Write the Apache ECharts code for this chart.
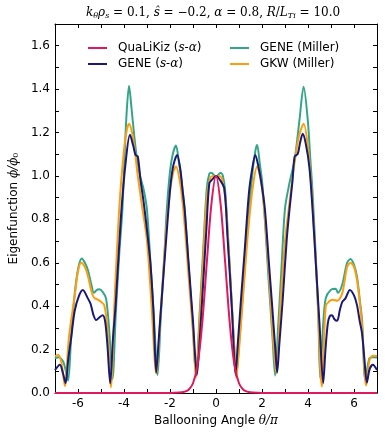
<!DOCTYPE html>
<html>
<head>
<meta charset="utf-8">
<script src="https://cdn.jsdelivr.net/npm/echarts@6/dist/echarts.min.js"></script>
<style>
html, body { margin: 0; padding: 0; background: #fff; }
#main { width: 385px; height: 437px; }
</style>
</head>
<body>
<div id="main"></div>
<script>
// [theta/pi, phi/phi0]
var qualikiz = [[-7,0],[-2,0],[-1.6,0.002],[-1.4,0.005],[-1.2,0.014],[-1.0,0.045],[-0.8,0.13],[-0.6,0.32],[-0.4,0.6],[-0.2,0.87],[0,1.0],
	[0.2,0.87],[0.4,0.6],[0.6,0.32],[0.8,0.13],[1.0,0.045],[1.2,0.014],[1.4,0.005],[1.6,0.002],[2,0],[7,0]];

var geneSA = [[-7.0,0.106],[-6.79,0.13],[-6.65,0.09],[-6.54,0.045],[-6.42,0.16],[-6.29,0.26],[-6.14,0.38],[-5.95,0.45],[-5.79,0.475],
	[-5.57,0.436],[-5.45,0.41],[-5.33,0.36],[-5.21,0.336],[-5.05,0.35],[-4.93,0.358],[-4.82,0.33],[-4.72,0.22],[-4.6,0.045],
	[-4.48,0.25],[-4.36,0.41],[-4.14,0.8],[-3.93,1.06],[-3.74,1.19],[-3.6,1.14],[-3.5,1.097],[-3.4,1.09],[-3.28,0.98],[-3.14,0.875],
	[-3.0,0.75],[-2.86,0.61],[-2.72,0.38],[-2.6,0.094],[-2.48,0.26],[-2.35,0.45],[-2.2,0.66],[-2.07,0.843],[-1.97,0.966],[-1.85,1.05],
	[-1.69,1.097],[-1.55,1.03],[-1.45,0.93],[-1.36,0.843],[-1.2,0.61],[-1.0,0.33],[-0.83,0.083],[-0.7,0.26],[-0.55,0.52],[-0.42,0.75],
	[-0.29,0.966],[-0.15,0.985],[0,1.0],[0.15,0.985],[0.36,0.943],[0.5,0.72],[0.6,0.55],[0.7,0.37],[0.85,0.085],[0.95,0.23],
	[1.1,0.45],[1.25,0.66],[1.43,0.92],[1.57,1.03],[1.71,1.097],[1.85,1.04],[2.0,0.95],[2.13,0.843],[2.3,0.6],[2.45,0.39],
	[2.58,0.2],[2.66,0.094],[2.75,0.22],[2.9,0.43],[3.07,0.7],[3.2,0.85],[3.32,0.97],[3.42,1.09],[3.55,1.1],[3.65,1.15],[3.77,1.194],
	[3.9,1.15],[4.06,1.04],[4.2,0.843],[4.35,0.58],[4.5,0.32],[4.66,0.046],[4.76,0.2],[4.86,0.32],[4.95,0.355],[5.05,0.358],
	[5.15,0.34],[5.27,0.333],[5.38,0.38],[5.49,0.42],[5.63,0.436],[5.82,0.475],[6.0,0.45],[6.13,0.405],[6.25,0.33],[6.35,0.275],
	[6.45,0.16],[6.56,0.048],[6.68,0.11],[6.82,0.13],[7.0,0.106]];

var geneMiller = [[-7.0,0.16],[-6.85,0.165],[-6.64,0.144],[-6.55,0.11],[-6.43,0.057],[-6.3,0.25],[-6.14,0.46],[-5.98,0.58],[-5.83,0.62],
	[-5.7,0.6],[-5.57,0.567],[-5.42,0.5],[-5.31,0.462],[-5.18,0.475],[-5.07,0.478],[-4.92,0.465],[-4.78,0.436],[-4.65,0.3],[-4.5,0.063],
	[-4.35,0.38],[-4.2,0.65],[-4.07,0.843],[-3.97,1.1],[-3.88,1.3],[-3.78,1.416],[-3.68,1.32],[-3.55,1.18],[-3.43,1.074],[-3.3,1.0],
	[-3.14,0.935],[-3.0,0.843],[-2.85,0.6],[-2.7,0.35],[-2.54,0.083],[-2.4,0.35],[-2.25,0.62],[-2.14,0.843],[-2.0,1.02],[-1.88,1.1],
	[-1.74,1.14],[-1.62,1.07],[-1.5,0.98],[-1.36,0.843],[-1.2,0.6],[-1.0,0.3],[-0.87,0.08],[-0.72,0.35],[-0.55,0.67],[-0.4,0.943],
	[-0.29,1.01],[-0.2,1.015],[-0.1,1.005],[0,0.997],[0.1,1.005],[0.2,1.015],[0.3,1.0],[0.4,0.93],[0.5,0.76],[0.65,0.48],[0.8,0.2],
	[0.88,0.075],[1.0,0.22],[1.2,0.5],[1.4,0.8],[1.6,1.03],[1.72,1.12],[1.79,1.143],[1.9,1.06],[2.0,0.98],[2.1,0.84],[2.3,0.5],
	[2.45,0.27],[2.57,0.08],[2.7,0.3],[2.85,0.58],[3.0,0.85],[3.2,0.97],[3.42,1.074],[3.63,1.258],[3.81,1.411],[3.99,1.258],[4.1,1.08],
	[4.2,0.92],[4.35,0.6],[4.45,0.35],[4.53,0.068],[4.65,0.3],[4.77,0.436],[4.99,0.475],[5.2,0.48],[5.3,0.462],[5.49,0.5],[5.7,0.6],
	[5.85,0.617],[6.0,0.59],[6.13,0.536],[6.25,0.43],[6.35,0.336],[6.49,0.06],[6.67,0.16],[6.85,0.165],[7.0,0.163]];

var gkwMiller = [[-7.0,0.17],[-6.86,0.175],[-6.72,0.14],[-6.57,0.032],[-6.4,0.25],[-6.14,0.45],[-6.0,0.56],[-5.86,0.6],[-5.7,0.58],
	[-5.57,0.54],[-5.42,0.47],[-5.31,0.44],[-5.14,0.43],[-5.0,0.42],[-4.86,0.405],[-4.72,0.3],[-4.57,0.026],[-4.4,0.45],[-4.2,0.86],
	[-4.0,1.12],[-3.88,1.21],[-3.78,1.24],[-3.6,1.17],[-3.4,1.0],[-3.2,0.85],[-3.0,0.7],[-2.8,0.4],[-2.6,0.09],[-2.4,0.38],[-2.2,0.7],
	[-2.0,0.93],[-1.85,1.02],[-1.74,1.043],[-1.55,0.96],[-1.4,0.82],[-1.2,0.55],[-1.0,0.28],[-0.87,0.07],[-0.7,0.35],[-0.55,0.63],
	[-0.4,0.9],[-0.25,0.99],[-0.12,1.0],[0,0.995],[0.12,1.0],[0.25,0.99],[0.4,0.9],[0.5,0.76],[0.65,0.48],[0.8,0.2],[0.88,0.07],
	[1.0,0.2],[1.2,0.48],[1.4,0.75],[1.6,0.95],[1.79,1.043],[1.95,0.98],[2.1,0.84],[2.3,0.55],[2.45,0.3],[2.62,0.09],[2.8,0.4],
	[3.0,0.7],[3.2,0.88],[3.4,1.05],[3.6,1.18],[3.81,1.24],[4.0,1.13],[4.2,0.86],[4.4,0.48],[4.6,0.03],[4.77,0.4],[4.9,0.42],
	[5.06,0.43],[5.27,0.425],[5.49,0.46],[5.7,0.58],[5.85,0.6],[6.0,0.58],[6.13,0.52],[6.25,0.42],[6.35,0.31],[6.53,0.034],
	[6.67,0.15],[6.82,0.172],[7.0,0.17]];

var xMin = -7, xMax = 7;
var yMin = 0, yMax = 1.7;

var font = 'DejaVu Sans';
var mathFont = 'DejaVu Serif';

var myChart = echarts.init(document.getElementById('main'));

function frameAxis(pos, isX, labels) {
	var ax = {
		type: 'value',
		position: pos,
		min: isX ? xMin : yMin,
		max: isX ? xMax : yMax,
		interval: isX ? 1 : 0.1,
		splitLine: { show: false },
		axisLine: { show: true, onZero: false, lineStyle: { color: '#000', width: 1 } },
		axisTick: { show: true, inside: true, length: 4, lineStyle: { color: '#000' } },
		axisLabel: {
			show: labels,
			color: '#000',
			fontFamily: font,
			fontSize: 12,
			margin: 5,
			formatter: function (v) {
				if (isX) return (Math.round(v) % 2 === 0) ? String(Math.round(v)) : '';
				var t = Math.round(v * 10);
				return t % 2 === 0 ? (t / 10).toFixed(1) : '';
			}
		}
	};
	return ax;
}

var xBottom = frameAxis('bottom', true, true);
xBottom.name = '{n|Ballooning Angle }{m|θ/π}';
xBottom.nameLocation = 'middle';
xBottom.nameGap = 21;
xBottom.nameTextStyle = {
	color: '#000',
	rich: {
		n: { fontFamily: font, fontSize: 12, color: '#000' },
		m: { fontFamily: mathFont, fontStyle: 'italic', fontSize: 12, color: '#000' }
	}
};
var xTop = frameAxis('top', true, false);

var yLeft = frameAxis('left', false, true);
yLeft.name = '{n|Eigenfunction }{m|ϕ/ϕ}{s|0}';
yLeft.nameLocation = 'middle';
yLeft.nameGap = 33;
yLeft.nameTextStyle = {
	color: '#000',
	rich: {
		n: { fontFamily: font, fontSize: 12, color: '#000' },
		m: { fontFamily: mathFont, fontStyle: 'italic', fontSize: 12, color: '#000' },
		s: { fontFamily: mathFont, fontSize: 8, color: '#000', verticalAlign: 'bottom' }
	}
};
var yRight = frameAxis('right', false, false);

function legendAt(name, left, top) {
	return {
		data: [{ name: name, icon: 'rect' }],
		left: left,
		top: top,
		itemWidth: 19,
		itemHeight: 2,
		itemGap: 0,
		padding: 0,
		selectedMode: false,
		formatter: function (n) {
			var m = n.match(/^(.*)\((s-α)\)$/);
			if (m) return '{n|' + m[1] + '(}{m|s-α}{n|)}';
			return '{n|' + n + '}';
		},
		textStyle: {
			padding: [0, 0, 0, 6],
			rich: {
				n: { fontFamily: font, fontSize: 12, color: '#000' },
				m: { fontFamily: mathFont, fontStyle: 'italic', fontSize: 12, color: '#000' }
			}
		}
	};
}

function lineSeries(name, data, color, z) {
	return {
		name: name,
		type: 'line',
		data: data,
		xAxisIndex: 0,
		yAxisIndex: 0,
		smooth: 0.3,
		symbol: 'none',
		showSymbol: false,
		z: z,
		lineStyle: { color: color, width: 2 },
		itemStyle: { color: color }
	};
}

var option = {
	animation: false,
	backgroundColor: '#fff',
	title: {
		text: '{i|k}{b|θ}{i|ρ}{b|s}{n| = 0.1, }{i|ŝ}{n| = −0.2, }{i|α}{n| = 0.8, }{i|R}{n|/}{i|L}{b|Ti}{n| = 10.0}',
		left: 86,
		top: 5,
		padding: 0,
		textStyle: {
			fontWeight: 'normal',
			rich: {
				i: { fontFamily: mathFont, fontStyle: 'italic', fontWeight: 'normal', fontSize: 12, color: '#000', lineHeight: 15 },
				n: { fontFamily: mathFont, fontWeight: 'normal', fontSize: 12, color: '#000', lineHeight: 15 },
				b: { fontFamily: mathFont, fontStyle: 'italic', fontWeight: 'normal', fontSize: 8, color: '#000', verticalAlign: 'bottom', lineHeight: 8 }
			}
		}
	},
	legend: [
		legendAt('QuaLiKiz (s-α)', 88, 42),
		legendAt('GENE (s-α)', 88, 58),
		legendAt('GENE (Miller)', 230, 42),
		legendAt('GKW (Miller)', 230, 58)
	],
	grid: { left: 51, right: 8, top: 24, bottom: 44 },
	xAxis: [xBottom, xTop],
	yAxis: [yLeft, yRight],
	series: [
		lineSeries('GENE (Miller)', geneMiller, '#33a68a', 2),
		lineSeries('GKW (Miller)', gkwMiller, '#ff9e0c', 3),
		lineSeries('GENE (s-α)', geneSA, '#191a78', 4),
		lineSeries('QuaLiKiz (s-α)', qualikiz, '#e0185c', 5)
	]
};
myChart.setOption(option);
</script>
</body>
</html>
